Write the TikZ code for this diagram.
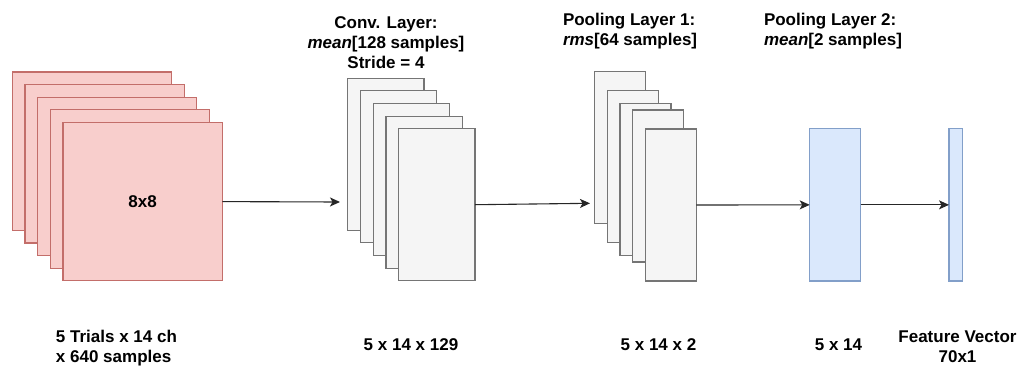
\documentclass[tikz,border=0pt]{standalone}
\usepackage{fontspec}
\setmainfont{Liberation Sans}
\usetikzlibrary{arrows.meta}

\definecolor{redfill}{HTML}{F8CECC}
\definecolor{redline}{HTML}{B85450}
\definecolor{grayfill}{HTML}{F5F5F5}
\definecolor{grayline}{HTML}{666666}
\definecolor{bluefill}{HTML}{DAE8FC}
\definecolor{blueline}{HTML}{6C8EBF}

\tikzset{
  sheet/.style={draw, line width=1.1pt, inner sep=0pt, outer sep=0pt,
    anchor=north west},
  redsheet/.style={sheet, fill=redfill, draw=redline!85,
    minimum width=159.3pt, minimum height=158.4pt},
  convsheet/.style={sheet, fill=grayfill, draw=grayline!90,
    minimum width=76.3pt, minimum height=152pt},
  poolsheet/.style={sheet, fill=grayfill, draw=grayline!90,
    minimum width=51pt, minimum height=152pt},
  bluesheet/.style={sheet, fill=bluefill, draw=blueline!85,
    minimum height=152.3pt},
  lbl/.style={inner sep=0pt, outer sep=0pt, font=\bfseries\fontsize{17}{20}\selectfont},
  flow/.style={draw=black!85, line width=1.1pt,
    -{Stealth[length=10pt,width=9pt,inset=2.5pt]}},
}

\begin{document}
\begin{tikzpicture}[x=1pt,y=-1pt]
  \useasboundingbox (0,0) rectangle (1021,365);

  % input trials: five stacked 8x8 maps
  \foreach \i in {0,...,4} {
    \node[redsheet] (r\i) at ({12.3+12.67*\i},{72+12.6*\i}) {};
  }
  \node[lbl] (rtxt) at (r4.center) {8x8};

  % convolution layer outputs
  \foreach \i in {0,...,4} {
    \node[convsheet] (c\i) at ({347.7+12.75*\i},{78.3+12.6*\i}) {};
  }

  % first pooling layer outputs
  \foreach \i/\t in {0/71.7,1/90.7,2/103.7,3/110,4/129} {
    \node[poolsheet] (p\i) at ({594.7+12.65*\i},\t) {};
  }

  % second pooling layer and feature vector
  \node[bluesheet, minimum width=51pt] (b1) at (809.7,128.7) {};
  \node[bluesheet, minimum width=13.3pt] (fv) at (949,128.7) {};

  % connectors
  \coordinate (cin) at (340,202);
  \coordinate (pin) at (590,203.3);
  \draw[flow] (r4.east) -- (cin);
  \draw[flow] (c4.east) -- (pin);
  \draw[flow] (p4.east) -- (b1.west);
  \draw[flow] (b1.east) -- (fv.west);

  % layer titles
  \node[lbl, align=center] (tconv) at (386,42.2)
    {Conv. Layer:\\\textit{mean}[128 samples]\\Stride = 4};
  \node[lbl, align=left, anchor=north west] (tpool1) at (563,13)
    {Pooling Layer 1:\\\textit{rms}[64 samples]};
  \node[lbl, align=left, anchor=north west] (tpool2) at (764,12.7)
    {Pooling Layer 2:\\\textit{mean}[2 samples]};

  % dimensions
  \node[lbl, align=left, anchor=north west] (dim0) at (56,330.5)
    {5 Trials x 14 ch\\x 640 samples};
  \node[lbl, anchor=base] (dim1) at (411,350.5) {5 x 14 x 129};
  \node[lbl, anchor=base] (dim2) at (658.5,350.5) {5 x 14 x 2};
  \node[lbl, anchor=base] (dim3) at (838.5,350.5) {5 x 14};
  \node[lbl, align=center, anchor=north] (dim4) at (957.5,330.5)
    {Feature Vector\\70x1};
\end{tikzpicture}
\end{document}
